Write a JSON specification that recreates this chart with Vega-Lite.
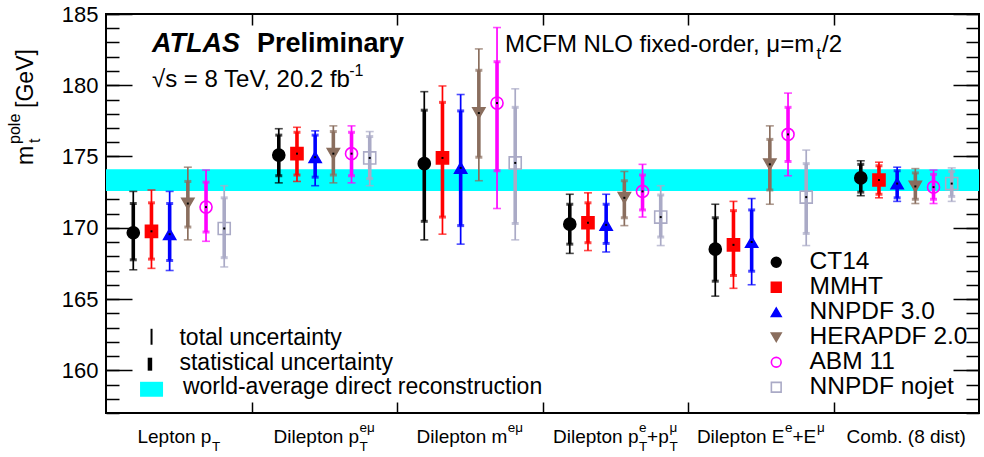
{
  "$schema": "https://vega.github.io/schema/vega-lite/v6.json",
  "width": 873,
  "height": 399,
  "autosize": "none",
  "padding": {"left": 106, "top": 14, "right": 5, "bottom": 44},
  "background": "white",
  "config": {
    "font": "Liberation Sans",
    "view": {"stroke": "black", "strokeWidth": 2},
    "axis": {"domain": false, "grid": false, "tickColor": "black", "tickWidth": 1.5, "labelColor": "black", "labelFont": "Liberation Sans", "zindex": 1, "title": null},
    "legend": {"orient": "none", "legendX": 658, "legendY": 236, "title": null, "padding": 0, "labelFontSize": 24.5, "labelFont": "Liberation Sans", "labelColor": "black", "symbolSize": 95, "symbolStrokeWidth": 1.6, "labelOffset": 21, "rowPadding": 0},
    "text": {"font": "Liberation Sans", "color": "black"}
  },
  "datasets": {
    "pts": [
      {"dist": "Lepton pT", "pdf": "CT14", "m": 169.65, "tlo": 167.05, "thi": 172.55, "slo": 167.75, "shi": 171.7},
      {"dist": "Lepton pT", "pdf": "MMHT", "m": 169.75, "tlo": 167.15, "thi": 172.65, "slo": 167.8, "shi": 171.75},
      {"dist": "Lepton pT", "pdf": "NNPDF 3.0", "m": 169.55, "tlo": 167.0, "thi": 172.55, "slo": 167.7, "shi": 171.7},
      {"dist": "Lepton pT", "pdf": "HERAPDF 2.0", "m": 171.7, "tlo": 169.15, "thi": 174.25, "slo": 170.05, "shi": 173.25},
      {"dist": "Lepton pT", "pdf": "ABM 11", "m": 171.45, "tlo": 169.05, "thi": 174.05, "slo": 169.7, "shi": 173.2},
      {"dist": "Lepton pT", "pdf": "NNPDF nojet", "m": 169.95, "tlo": 167.25, "thi": 172.95, "slo": 167.9, "shi": 172.1},
      {"dist": "Dilepton pT", "pdf": "CT14", "m": 175.1, "tlo": 173.15, "thi": 176.95, "slo": 173.65, "shi": 176.5},
      {"dist": "Dilepton pT", "pdf": "MMHT", "m": 175.2, "tlo": 173.25, "thi": 177.05, "slo": 173.7, "shi": 176.7},
      {"dist": "Dilepton pT", "pdf": "NNPDF 3.0", "m": 174.95, "tlo": 172.95, "thi": 176.8, "slo": 173.55, "shi": 176.5},
      {"dist": "Dilepton pT", "pdf": "HERAPDF 2.0", "m": 175.2, "tlo": 173.15, "thi": 177.15, "slo": 173.7, "shi": 176.75},
      {"dist": "Dilepton pT", "pdf": "ABM 11", "m": 175.2, "tlo": 173.15, "thi": 177.15, "slo": 173.65, "shi": 176.7},
      {"dist": "Dilepton pT", "pdf": "NNPDF nojet", "m": 174.9, "tlo": 172.95, "thi": 176.75, "slo": 173.45, "shi": 176.4},
      {"dist": "Dilepton m", "pdf": "CT14", "m": 174.5, "tlo": 169.15, "thi": 179.55, "slo": 170.45, "shi": 178.25},
      {"dist": "Dilepton m", "pdf": "MMHT", "m": 174.9, "tlo": 169.55, "thi": 179.95, "slo": 170.75, "shi": 178.8},
      {"dist": "Dilepton m", "pdf": "NNPDF 3.0", "m": 174.2, "tlo": 168.85, "thi": 179.35, "slo": 170.15, "shi": 178.2},
      {"dist": "Dilepton m", "pdf": "HERAPDF 2.0", "m": 178.05, "tlo": 173.3, "thi": 182.55, "slo": 174.95, "shi": 181.05},
      {"dist": "Dilepton m", "pdf": "ABM 11", "m": 178.75, "tlo": 171.35, "thi": 184.05, "slo": 174.0, "shi": 181.65},
      {"dist": "Dilepton m", "pdf": "NNPDF nojet", "m": 174.55, "tlo": 169.15, "thi": 179.75, "slo": 170.3, "shi": 178.45},
      {"dist": "Dilepton pT sum", "pdf": "CT14", "m": 170.25, "tlo": 168.2, "thi": 172.35, "slo": 168.85, "shi": 171.65},
      {"dist": "Dilepton pT sum", "pdf": "MMHT", "m": 170.35, "tlo": 168.4, "thi": 172.45, "slo": 168.95, "shi": 171.75},
      {"dist": "Dilepton pT sum", "pdf": "NNPDF 3.0", "m": 170.2, "tlo": 168.3, "thi": 172.35, "slo": 168.9, "shi": 171.65},
      {"dist": "Dilepton pT sum", "pdf": "HERAPDF 2.0", "m": 172.1, "tlo": 170.15, "thi": 173.95, "slo": 170.7, "shi": 173.3},
      {"dist": "Dilepton pT sum", "pdf": "ABM 11", "m": 172.55, "tlo": 170.75, "thi": 174.45, "slo": 171.25, "shi": 173.7},
      {"dist": "Dilepton pT sum", "pdf": "NNPDF nojet", "m": 170.75, "tlo": 168.75, "thi": 172.95, "slo": 169.35, "shi": 172.3},
      {"dist": "Dilepton E sum", "pdf": "CT14", "m": 168.5, "tlo": 165.2, "thi": 171.65, "slo": 166.25, "shi": 170.7},
      {"dist": "Dilepton E sum", "pdf": "MMHT", "m": 168.8, "tlo": 165.75, "thi": 171.85, "slo": 166.65, "shi": 171.2},
      {"dist": "Dilepton E sum", "pdf": "NNPDF 3.0", "m": 169.0, "tlo": 166.0, "thi": 172.05, "slo": 166.95, "shi": 171.25},
      {"dist": "Dilepton E sum", "pdf": "HERAPDF 2.0", "m": 174.45, "tlo": 171.65, "thi": 177.15, "slo": 172.65, "shi": 176.2},
      {"dist": "Dilepton E sum", "pdf": "ABM 11", "m": 176.55, "tlo": 173.65, "thi": 179.45, "slo": 174.65, "shi": 178.45},
      {"dist": "Dilepton E sum", "pdf": "NNPDF nojet", "m": 172.15, "tlo": 168.75, "thi": 175.45, "slo": 169.6, "shi": 174.5},
      {"dist": "Comb. (8 dist)", "pdf": "CT14", "m": 173.5, "tlo": 172.25, "thi": 174.7, "slo": 172.5, "shi": 174.45},
      {"dist": "Comb. (8 dist)", "pdf": "MMHT", "m": 173.35, "tlo": 172.1, "thi": 174.6, "slo": 172.35, "shi": 174.35},
      {"dist": "Comb. (8 dist)", "pdf": "NNPDF 3.0", "m": 173.1, "tlo": 171.85, "thi": 174.25, "slo": 172.1, "shi": 174.0},
      {"dist": "Comb. (8 dist)", "pdf": "HERAPDF 2.0", "m": 172.9, "tlo": 171.7, "thi": 174.15, "slo": 172.0, "shi": 173.85},
      {"dist": "Comb. (8 dist)", "pdf": "ABM 11", "m": 172.85, "tlo": 171.7, "thi": 174.05, "slo": 172.0, "shi": 173.75},
      {"dist": "Comb. (8 dist)", "pdf": "NNPDF nojet", "m": 173.1, "tlo": 171.85, "thi": 174.2, "slo": 172.2, "shi": 173.95}
    ],
    "band": [{"lo": 172.58, "hi": 174.1}]
  },
  "layer": [
    {
      "data": {"name": "band"},
      "mark": {"type": "rect", "color": "#00ffff"},
      "encoding": {
        "y": {"field": "lo", "type": "quantitative", "scale": {"domain": [157, 185], "nice": false, "zero": false}, "axis": null},
        "y2": {"field": "hi"}
      }
    },
    {
      "data": {"name": "pts"},
      "encoding": {
        "x": {"field": "dist", "type": "nominal", "sort": ["Lepton pT", "Dilepton pT", "Dilepton m", "Dilepton pT sum", "Dilepton E sum", "Comb. (8 dist)"], "scale": {"paddingInner": 0, "paddingOuter": 0}, "axis": null},
        "xOffset": {"field": "pdf", "type": "nominal", "sort": ["CT14", "MMHT", "NNPDF 3.0", "HERAPDF 2.0", "ABM 11", "NNPDF nojet"], "scale": {"paddingInner": 0, "paddingOuter": 1.13}}
      },
      "layer": [
        {
          "mark": {"type": "bar", "size": 1.7},
          "encoding": {
            "y": {"field": "tlo", "type": "quantitative", "scale": {"domain": [157, 185], "nice": false, "zero": false}, "axis": null},
            "y2": {"field": "thi"},
            "color": {"field": "pdf", "type": "nominal", "sort": ["CT14", "MMHT", "NNPDF 3.0", "HERAPDF 2.0", "ABM 11", "NNPDF nojet"], "scale": {"range": ["#000000", "#ff0000", "#0000ff", "#8a6e5e", "#ff00ff", "#aaaac6"]}, "legend": null}
          }
        },
        {
          "mark": {"type": "bar", "size": 3.6},
          "encoding": {
            "y": {"field": "slo", "type": "quantitative", "scale": {"domain": [157, 185], "nice": false, "zero": false}, "axis": null},
            "y2": {"field": "shi"},
            "color": {"field": "pdf", "type": "nominal", "sort": ["CT14", "MMHT", "NNPDF 3.0", "HERAPDF 2.0", "ABM 11", "NNPDF nojet"], "legend": null}
          }
        },
        {
          "mark": {"type": "tick", "size": 8, "thickness": 1.6},
          "encoding": {
            "y": {"field": "tlo", "type": "quantitative", "scale": {"domain": [157, 185], "nice": false, "zero": false}, "axis": null},
            "color": {"field": "pdf", "type": "nominal", "sort": ["CT14", "MMHT", "NNPDF 3.0", "HERAPDF 2.0", "ABM 11", "NNPDF nojet"], "legend": null}
          }
        },
        {
          "mark": {"type": "tick", "size": 8, "thickness": 1.6},
          "encoding": {
            "y": {"field": "thi", "type": "quantitative", "scale": {"domain": [157, 185], "nice": false, "zero": false}, "axis": null},
            "color": {"field": "pdf", "type": "nominal", "sort": ["CT14", "MMHT", "NNPDF 3.0", "HERAPDF 2.0", "ABM 11", "NNPDF nojet"], "legend": null}
          }
        },
        {
          "mark": {"type": "tick", "size": 7, "thickness": 3},
          "encoding": {
            "y": {"field": "slo", "type": "quantitative", "scale": {"domain": [157, 185], "nice": false, "zero": false}, "axis": null},
            "color": {"field": "pdf", "type": "nominal", "sort": ["CT14", "MMHT", "NNPDF 3.0", "HERAPDF 2.0", "ABM 11", "NNPDF nojet"], "legend": null}
          }
        },
        {
          "mark": {"type": "tick", "size": 7, "thickness": 3},
          "encoding": {
            "y": {"field": "shi", "type": "quantitative", "scale": {"domain": [157, 185], "nice": false, "zero": false}, "axis": null},
            "color": {"field": "pdf", "type": "nominal", "sort": ["CT14", "MMHT", "NNPDF 3.0", "HERAPDF 2.0", "ABM 11", "NNPDF nojet"], "legend": null}
          }
        },
        {
          "mark": {"type": "point", "filled": true, "size": 145, "strokeWidth": 1.6, "opacity": 1},
          "encoding": {
            "y": {"field": "m", "type": "quantitative", "scale": {"domain": [157, 185], "nice": false, "zero": false}, "axis": null},
            "shape": {"field": "pdf", "type": "nominal", "scale": {"domain": ["CT14", "MMHT", "NNPDF 3.0", "HERAPDF 2.0", "ABM 11", "NNPDF nojet"], "range": ["circle", "square", "triangle-up", "triangle-down", "circle", "square"]}, "legend": {"title": null}},
            "fill": {"field": "pdf", "type": "nominal", "scale": {"domain": ["CT14", "MMHT", "NNPDF 3.0", "HERAPDF 2.0", "ABM 11", "NNPDF nojet"], "range": ["#000000", "#ff0000", "#0000ff", "#8a6e5e", "transparent", "transparent"]}, "legend": {"title": null}},
            "stroke": {"field": "pdf", "type": "nominal", "scale": {"domain": ["CT14", "MMHT", "NNPDF 3.0", "HERAPDF 2.0", "ABM 11", "NNPDF nojet"], "range": ["#000000", "#ff0000", "#0000ff", "#8a6e5e", "#ff00ff", "#aaaac6"]}, "legend": {"title": null}}
          }
        },
        {
          "mark": {"type": "point", "shape": "square", "filled": true, "size": 4, "color": "black", "opacity": 1},
          "encoding": {
            "y": {"field": "m", "type": "quantitative", "scale": {"domain": [157, 185], "nice": false, "zero": false}, "axis": null}
          }
        }
      ]
    },
    {
      "resolve": {"axis": {"x": "independent", "y": "independent"}},
      "layer": [
        {
          "data": {"values": [{"s": "ATLAS"}]},
          "mark": {"type": "text", "align": "left", "baseline": "alphabetic", "fontSize": 27, "fontWeight": "bold", "fontStyle": "italic"},
          "encoding": {
            "x": {"datum": 0.316, "type": "quantitative", "scale": {"domain": [0, 6], "nice": false, "zero": false}, "axis": {"orient": "bottom", "values": [1, 2, 3, 4, 5], "tickSize": -11, "labels": false}},
            "y": {"datum": 182.3, "type": "quantitative", "scale": {"domain": [157, 185], "nice": false, "zero": false}, "axis": {"orient": "left", "values": [160, 165, 170, 175, 180, 185], "tickSize": -26, "labelPadding": 34, "labelFontSize": 22}},
            "text": {"field": "s"}
          }
        },
        {
          "data": {"values": [{"s": "Preliminary"}]},
          "mark": {"type": "text", "align": "left", "baseline": "alphabetic", "fontSize": 27, "fontWeight": "bold"},
          "encoding": {
            "x": {"datum": 1.038, "type": "quantitative", "scale": {"domain": [0, 6], "nice": false, "zero": false}, "axis": {"orient": "top", "values": [1, 2, 3, 4, 5], "tickSize": -11, "labels": false}},
            "y": {"datum": 182.3, "type": "quantitative", "scale": {"domain": [157, 185], "nice": false, "zero": false}, "axis": {"orient": "left", "values": [157, 158, 159, 160, 161, 162, 163, 164, 165, 166, 167, 168, 169, 170, 171, 172, 173, 174, 175, 176, 177, 178, 179, 180, 181, 182, 183, 184, 185], "tickSize": -13, "labels": false}},
            "text": {"field": "s"}
          }
        },
        {
          "data": {"values": [{"s": "√s = 8 TeV, 20.2 fb"}]},
          "mark": {"type": "text", "align": "left", "baseline": "alphabetic", "fontSize": 24},
          "encoding": {
            "x": {"datum": 0.316, "type": "quantitative", "scale": {"domain": [0, 6], "nice": false, "zero": false}, "axis": null},
            "y": {"datum": 179.88, "type": "quantitative", "scale": {"domain": [157, 185], "nice": false, "zero": false}, "axis": {"orient": "right", "values": [160, 165, 170, 175, 180, 185], "tickSize": -26, "labels": false}},
            "text": {"field": "s"}
          }
        },
        {
          "data": {"values": [{"s": "-1"}]},
          "mark": {"type": "text", "align": "left", "baseline": "alphabetic", "fontSize": 16},
          "encoding": {
            "x": {"datum": 1.672, "type": "quantitative", "scale": {"domain": [0, 6], "nice": false, "zero": false}, "axis": null},
            "y": {"datum": 180.62, "type": "quantitative", "scale": {"domain": [157, 185], "nice": false, "zero": false}, "axis": {"orient": "right", "values": [157, 158, 159, 160, 161, 162, 163, 164, 165, 166, 167, 168, 169, 170, 171, 172, 173, 174, 175, 176, 177, 178, 179, 180, 181, 182, 183, 184, 185], "tickSize": -13, "labels": false}},
            "text": {"field": "s"}
          }
        },
        {
          "data": {"values": [{"s": "MCFM NLO fixed-order, μ=m"}]},
          "mark": {"type": "text", "align": "left", "baseline": "alphabetic", "fontSize": 24},
          "encoding": {
            "x": {"datum": 2.742, "type": "quantitative", "scale": {"domain": [0, 6], "nice": false, "zero": false}, "axis": null},
            "y": {"datum": 182.3, "type": "quantitative", "scale": {"domain": [157, 185], "nice": false, "zero": false}, "axis": null},
            "text": {"field": "s"}
          }
        },
        {
          "data": {"values": [{"s": "t"}]},
          "mark": {"type": "text", "align": "left", "baseline": "alphabetic", "fontSize": 17},
          "encoding": {
            "x": {"datum": 4.883, "type": "quantitative", "scale": {"domain": [0, 6], "nice": false, "zero": false}, "axis": null},
            "y": {"datum": 181.84, "type": "quantitative", "scale": {"domain": [157, 185], "nice": false, "zero": false}, "axis": null},
            "text": {"field": "s"}
          }
        },
        {
          "data": {"values": [{"s": "/2"}]},
          "mark": {"type": "text", "align": "left", "baseline": "alphabetic", "fontSize": 24},
          "encoding": {
            "x": {"datum": 4.921, "type": "quantitative", "scale": {"domain": [0, 6], "nice": false, "zero": false}, "axis": null},
            "y": {"datum": 182.3, "type": "quantitative", "scale": {"domain": [157, 185], "nice": false, "zero": false}, "axis": null},
            "text": {"field": "s"}
          }
        },
        {
          "data": {"values": [{"s": "m"}]},
          "mark": {"type": "text", "align": "left", "baseline": "alphabetic", "fontSize": 23, "angle": 270},
          "encoding": {
            "x": {"datum": -0.5, "type": "quantitative", "scale": {"domain": [0, 6], "nice": false, "zero": false}, "axis": null},
            "y": {"datum": 174.41, "type": "quantitative", "scale": {"domain": [157, 185], "nice": false, "zero": false}, "axis": null},
            "text": {"field": "s"}
          }
        },
        {
          "data": {"values": [{"s": "t"}]},
          "mark": {"type": "text", "align": "left", "baseline": "alphabetic", "fontSize": 16, "angle": 270},
          "encoding": {
            "x": {"datum": -0.452, "type": "quantitative", "scale": {"domain": [0, 6], "nice": false, "zero": false}, "axis": null},
            "y": {"datum": 175.95, "type": "quantitative", "scale": {"domain": [157, 185], "nice": false, "zero": false}, "axis": null},
            "text": {"field": "s"}
          }
        },
        {
          "data": {"values": [{"s": "pole"}]},
          "mark": {"type": "text", "align": "left", "baseline": "alphabetic", "fontSize": 16, "angle": 270},
          "encoding": {
            "x": {"datum": -0.59, "type": "quantitative", "scale": {"domain": [0, 6], "nice": false, "zero": false}, "axis": null},
            "y": {"datum": 175.88, "type": "quantitative", "scale": {"domain": [157, 185], "nice": false, "zero": false}, "axis": null},
            "text": {"field": "s"}
          }
        },
        {
          "data": {"values": [{"s": "[GeV]"}]},
          "mark": {"type": "text", "align": "left", "baseline": "alphabetic", "fontSize": 23, "angle": 270},
          "encoding": {
            "x": {"datum": -0.5, "type": "quantitative", "scale": {"domain": [0, 6], "nice": false, "zero": false}, "axis": null},
            "y": {"datum": 178.41, "type": "quantitative", "scale": {"domain": [157, 185], "nice": false, "zero": false}, "axis": null},
            "text": {"field": "s"}
          }
        },
        {
          "data": {"values": [{"s": "Lepton p"}]},
          "mark": {"type": "text", "align": "left", "baseline": "alphabetic", "fontSize": 19},
          "encoding": {
            "x": {"datum": 0.216, "type": "quantitative", "scale": {"domain": [0, 6], "nice": false, "zero": false}, "axis": null},
            "y": {"datum": 154.92, "type": "quantitative", "scale": {"domain": [157, 185], "nice": false, "zero": false}, "axis": null},
            "text": {"field": "s"}
          }
        },
        {
          "data": {"values": [{"s": "T"}]},
          "mark": {"type": "text", "align": "left", "baseline": "alphabetic", "fontSize": 13.5},
          "encoding": {
            "x": {"datum": 0.728, "type": "quantitative", "scale": {"domain": [0, 6], "nice": false, "zero": false}, "axis": null},
            "y": {"datum": 154.36, "type": "quantitative", "scale": {"domain": [157, 185], "nice": false, "zero": false}, "axis": null},
            "text": {"field": "s"}
          }
        },
        {
          "data": {"values": [{"s": "Dilepton p"}]},
          "mark": {"type": "text", "align": "left", "baseline": "alphabetic", "fontSize": 19},
          "encoding": {
            "x": {"datum": 1.152, "type": "quantitative", "scale": {"domain": [0, 6], "nice": false, "zero": false}, "axis": null},
            "y": {"datum": 154.92, "type": "quantitative", "scale": {"domain": [157, 185], "nice": false, "zero": false}, "axis": null},
            "text": {"field": "s"}
          }
        },
        {
          "data": {"values": [{"s": "T"}]},
          "mark": {"type": "text", "align": "left", "baseline": "alphabetic", "fontSize": 13.5},
          "encoding": {
            "x": {"datum": 1.743, "type": "quantitative", "scale": {"domain": [0, 6], "nice": false, "zero": false}, "axis": null},
            "y": {"datum": 154.36, "type": "quantitative", "scale": {"domain": [157, 185], "nice": false, "zero": false}, "axis": null},
            "text": {"field": "s"}
          }
        },
        {
          "data": {"values": [{"s": "eμ"}]},
          "mark": {"type": "text", "align": "left", "baseline": "alphabetic", "fontSize": 13.5},
          "encoding": {
            "x": {"datum": 1.743, "type": "quantitative", "scale": {"domain": [0, 6], "nice": false, "zero": false}, "axis": null},
            "y": {"datum": 155.69, "type": "quantitative", "scale": {"domain": [157, 185], "nice": false, "zero": false}, "axis": null},
            "text": {"field": "s"}
          }
        },
        {
          "data": {"values": [{"s": "Dilepton m"}]},
          "mark": {"type": "text", "align": "left", "baseline": "alphabetic", "fontSize": 19},
          "encoding": {
            "x": {"datum": 2.134, "type": "quantitative", "scale": {"domain": [0, 6], "nice": false, "zero": false}, "axis": null},
            "y": {"datum": 154.92, "type": "quantitative", "scale": {"domain": [157, 185], "nice": false, "zero": false}, "axis": null},
            "text": {"field": "s"}
          }
        },
        {
          "data": {"values": [{"s": "eμ"}]},
          "mark": {"type": "text", "align": "left", "baseline": "alphabetic", "fontSize": 13.5},
          "encoding": {
            "x": {"datum": 2.761, "type": "quantitative", "scale": {"domain": [0, 6], "nice": false, "zero": false}, "axis": null},
            "y": {"datum": 155.69, "type": "quantitative", "scale": {"domain": [157, 185], "nice": false, "zero": false}, "axis": null},
            "text": {"field": "s"}
          }
        },
        {
          "data": {"values": [{"s": "Dilepton p"}]},
          "mark": {"type": "text", "align": "left", "baseline": "alphabetic", "fontSize": 19},
          "encoding": {
            "x": {"datum": 3.072, "type": "quantitative", "scale": {"domain": [0, 6], "nice": false, "zero": false}, "axis": null},
            "y": {"datum": 154.92, "type": "quantitative", "scale": {"domain": [157, 185], "nice": false, "zero": false}, "axis": null},
            "text": {"field": "s"}
          }
        },
        {
          "data": {"values": [{"s": "e"}]},
          "mark": {"type": "text", "align": "left", "baseline": "alphabetic", "fontSize": 13.5},
          "encoding": {
            "x": {"datum": 3.663, "type": "quantitative", "scale": {"domain": [0, 6], "nice": false, "zero": false}, "axis": null},
            "y": {"datum": 155.69, "type": "quantitative", "scale": {"domain": [157, 185], "nice": false, "zero": false}, "axis": null},
            "text": {"field": "s"}
          }
        },
        {
          "data": {"values": [{"s": "T"}]},
          "mark": {"type": "text", "align": "left", "baseline": "alphabetic", "fontSize": 13.5},
          "encoding": {
            "x": {"datum": 3.663, "type": "quantitative", "scale": {"domain": [0, 6], "nice": false, "zero": false}, "axis": null},
            "y": {"datum": 154.36, "type": "quantitative", "scale": {"domain": [157, 185], "nice": false, "zero": false}, "axis": null},
            "text": {"field": "s"}
          }
        },
        {
          "data": {"values": [{"s": "+p"}]},
          "mark": {"type": "text", "align": "left", "baseline": "alphabetic", "fontSize": 19},
          "encoding": {
            "x": {"datum": 3.719, "type": "quantitative", "scale": {"domain": [0, 6], "nice": false, "zero": false}, "axis": null},
            "y": {"datum": 154.92, "type": "quantitative", "scale": {"domain": [157, 185], "nice": false, "zero": false}, "axis": null},
            "text": {"field": "s"}
          }
        },
        {
          "data": {"values": [{"s": "μ"}]},
          "mark": {"type": "text", "align": "left", "baseline": "alphabetic", "fontSize": 13.5},
          "encoding": {
            "x": {"datum": 3.872, "type": "quantitative", "scale": {"domain": [0, 6], "nice": false, "zero": false}, "axis": null},
            "y": {"datum": 155.69, "type": "quantitative", "scale": {"domain": [157, 185], "nice": false, "zero": false}, "axis": null},
            "text": {"field": "s"}
          }
        },
        {
          "data": {"values": [{"s": "T"}]},
          "mark": {"type": "text", "align": "left", "baseline": "alphabetic", "fontSize": 13.5},
          "encoding": {
            "x": {"datum": 3.872, "type": "quantitative", "scale": {"domain": [0, 6], "nice": false, "zero": false}, "axis": null},
            "y": {"datum": 154.36, "type": "quantitative", "scale": {"domain": [157, 185], "nice": false, "zero": false}, "axis": null},
            "text": {"field": "s"}
          }
        },
        {
          "data": {"values": [{"s": "Dilepton E"}]},
          "mark": {"type": "text", "align": "left", "baseline": "alphabetic", "fontSize": 19},
          "encoding": {
            "x": {"datum": 4.061, "type": "quantitative", "scale": {"domain": [0, 6], "nice": false, "zero": false}, "axis": null},
            "y": {"datum": 154.92, "type": "quantitative", "scale": {"domain": [157, 185], "nice": false, "zero": false}, "axis": null},
            "text": {"field": "s"}
          }
        },
        {
          "data": {"values": [{"s": "e"}]},
          "mark": {"type": "text", "align": "left", "baseline": "alphabetic", "fontSize": 13.5},
          "encoding": {
            "x": {"datum": 4.667, "type": "quantitative", "scale": {"domain": [0, 6], "nice": false, "zero": false}, "axis": null},
            "y": {"datum": 155.69, "type": "quantitative", "scale": {"domain": [157, 185], "nice": false, "zero": false}, "axis": null},
            "text": {"field": "s"}
          }
        },
        {
          "data": {"values": [{"s": "+E"}]},
          "mark": {"type": "text", "align": "left", "baseline": "alphabetic", "fontSize": 19},
          "encoding": {
            "x": {"datum": 4.718, "type": "quantitative", "scale": {"domain": [0, 6], "nice": false, "zero": false}, "axis": null},
            "y": {"datum": 154.92, "type": "quantitative", "scale": {"domain": [157, 185], "nice": false, "zero": false}, "axis": null},
            "text": {"field": "s"}
          }
        },
        {
          "data": {"values": [{"s": "μ"}]},
          "mark": {"type": "text", "align": "left", "baseline": "alphabetic", "fontSize": 13.5},
          "encoding": {
            "x": {"datum": 4.886, "type": "quantitative", "scale": {"domain": [0, 6], "nice": false, "zero": false}, "axis": null},
            "y": {"datum": 155.69, "type": "quantitative", "scale": {"domain": [157, 185], "nice": false, "zero": false}, "axis": null},
            "text": {"field": "s"}
          }
        },
        {
          "data": {"values": [{"s": "Comb. (8 dist)"}]},
          "mark": {"type": "text", "align": "center", "baseline": "alphabetic", "fontSize": 19},
          "encoding": {
            "x": {"datum": 5.5, "type": "quantitative", "scale": {"domain": [0, 6], "nice": false, "zero": false}, "axis": null},
            "y": {"datum": 154.92, "type": "quantitative", "scale": {"domain": [157, 185], "nice": false, "zero": false}, "axis": null},
            "text": {"field": "s"}
          }
        },
        {
          "data": {"values": [{"s": "total"}]},
          "mark": {"type": "rule", "strokeWidth": 2, "color": "black"},
          "encoding": {
            "x": {"datum": 0.313, "type": "quantitative", "scale": {"domain": [0, 6], "nice": false, "zero": false}, "axis": null},
            "y": {"datum": 162.91, "type": "quantitative", "scale": {"domain": [157, 185], "nice": false, "zero": false}, "axis": null},
            "y2": {"datum": 161.79}
          }
        },
        {
          "data": {"values": [{"s": "stat"}]},
          "mark": {"type": "rule", "strokeWidth": 4.5, "color": "black"},
          "encoding": {
            "x": {"datum": 0.302, "type": "quantitative", "scale": {"domain": [0, 6], "nice": false, "zero": false}, "axis": null},
            "y": {"datum": 160.88, "type": "quantitative", "scale": {"domain": [157, 185], "nice": false, "zero": false}, "axis": null},
            "y2": {"datum": 159.97}
          }
        },
        {
          "data": {"values": [{"s": "wa"}]},
          "mark": {"type": "rect", "color": "#00ffff"},
          "encoding": {
            "x": {"datum": 0.234, "type": "quantitative", "scale": {"domain": [0, 6], "nice": false, "zero": false}, "axis": null},
            "x2": {"datum": 0.392},
            "y": {"datum": 159.19, "type": "quantitative", "scale": {"domain": [157, 185], "nice": false, "zero": false}, "axis": null},
            "y2": {"datum": 158.14}
          }
        },
        {
          "data": {"values": [{"s": "total uncertainty"}]},
          "mark": {"type": "text", "align": "left", "baseline": "middle", "fontSize": 23},
          "encoding": {
            "x": {"datum": 0.505, "type": "quantitative", "scale": {"domain": [0, 6], "nice": false, "zero": false}, "axis": null},
            "y": {"datum": 162.28, "type": "quantitative", "scale": {"domain": [157, 185], "nice": false, "zero": false}, "axis": null},
            "text": {"field": "s"}
          }
        },
        {
          "data": {"values": [{"s": "statistical uncertainty"}]},
          "mark": {"type": "text", "align": "left", "baseline": "middle", "fontSize": 23},
          "encoding": {
            "x": {"datum": 0.505, "type": "quantitative", "scale": {"domain": [0, 6], "nice": false, "zero": false}, "axis": null},
            "y": {"datum": 160.53, "type": "quantitative", "scale": {"domain": [157, 185], "nice": false, "zero": false}, "axis": null},
            "text": {"field": "s"}
          }
        },
        {
          "data": {"values": [{"s": "world-average direct reconstruction"}]},
          "mark": {"type": "text", "align": "left", "baseline": "middle", "fontSize": 23},
          "encoding": {
            "x": {"datum": 0.529, "type": "quantitative", "scale": {"domain": [0, 6], "nice": false, "zero": false}, "axis": null},
            "y": {"datum": 158.84, "type": "quantitative", "scale": {"domain": [157, 185], "nice": false, "zero": false}, "axis": null},
            "text": {"field": "s"}
          }
        }
      ]
    }
  ],
  "resolve": {"scale": {"x": "independent"}, "axis": {"x": "independent", "y": "independent"}}
}
